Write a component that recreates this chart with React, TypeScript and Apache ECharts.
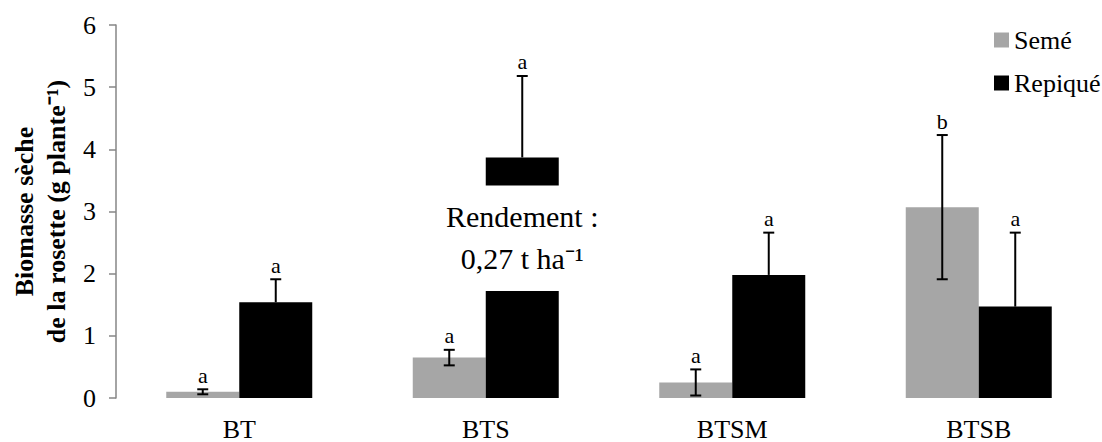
import React, { useEffect, useRef } from "react";
import * as echarts from "echarts";

const categories = ["BT", "BTS", "BTSM", "BTSB"];
const semeValues = [0.1, 0.65, 0.25, 3.07];
const semeErrors = [0.04, 0.125, 0.21, 1.16];
const repiqueValues = [1.54, 3.87, 1.98, 1.47];
const repiqueErrors = [0.37, 1.31, 0.68, 1.19];
const semeLetters = ["a", "a", "a", "b"];
const repiqueLetters = ["a", "a", "a", "a"];
const seriesNames = ["Semé", "Repiqué"];
const yTicks = [0, 1, 2, 3, 4, 5, 6];
const yTitle = "Biomasse sèche\nde la rosette (g plante⁻¹)";
// annotation box (white textbox placed over the BTS "Repiqué" bar)
const annotationCategoryIndex = 1;
const annotationRange = [1.72, 3.42];
const annotationText = "Rendement :\n0,27 t ha⁻¹";

const FONT = "Liberation Serif";
const BAR_W = 73;

export default function App() {
  const ref = useRef<HTMLDivElement>(null);
  useEffect(() => {
    if (!ref.current) return;
    const chart = echarts.init(ref.current, null, { renderer: "svg" });

    const errData: any[] = [];
    categories.forEach((_, i) => {
      errData.push([i, semeValues[i], semeErrors[i], 1, -1, semeLetters[i]]);
      errData.push([i, repiqueValues[i], repiqueErrors[i], 0, 1, repiqueLetters[i]]);
    });

    const option: any = {
      animation: false,
      grid: { left: 110, top: 25, width: 1005, height: 377 },
      legend: {
        orient: "vertical",
        left: 989,
        top: 22,
        itemWidth: 15,
        itemHeight: 15,
        itemGap: 17,
        icon: "rect",
        data: seriesNames,
        textStyle: { fontSize: 26, fontFamily: FONT, color: "#000" },
      },
      xAxis: {
        type: "category",
        data: categories,
        axisLine: { show: false },
        axisTick: { show: false },
        axisLabel: { fontSize: 26, fontFamily: FONT, color: "#000", margin: 18 },
      },
      yAxis: {
        type: "value",
        min: yTicks[0],
        max: yTicks[yTicks.length - 1],
        interval: 1,
        splitLine: { show: false },
        axisLine: { show: true, lineStyle: { color: "#868686", width: 1.5 } },
        axisTick: { show: true, length: 7, lineStyle: { color: "#868686", width: 1.5 } },
        axisLabel: { fontSize: 26, fontFamily: FONT, color: "#000", margin: 20 },
        name: yTitle,
        nameLocation: "middle",
        nameGap: 44,
        nameRotate: 90,
        nameTextStyle: {
          fontFamily: FONT,
          fontSize: 26,
          fontWeight: "bold",
          color: "#000",
          align: "center",
          lineHeight: 32,
        },
      },
      series: [
        {
          name: seriesNames[0],
          type: "bar",
          data: semeValues,
          barWidth: BAR_W,
          barGap: "0%",
          itemStyle: { color: "#a6a6a6" },
        },
        {
          name: seriesNames[1],
          type: "bar",
          data: repiqueValues,
          barWidth: BAR_W,
          barGap: "0%",
          itemStyle: { color: "#000000" },
        },
        {
          type: "custom",
          z: 5,
          data: [[annotationCategoryIndex, annotationRange[0], annotationRange[1]]],
          renderItem: (params: any, api: any) => {
            const idx = api.value(0);
            const lo = api.coord([idx, api.value(1)]);
            const hi = api.coord([idx, api.value(2)]);
            const cx = lo[0] + BAR_W / 2;
            const w = 180;
            return {
              type: "group",
              children: [
                {
                  type: "rect",
                  shape: { x: cx - w / 2, y: hi[1], width: w, height: lo[1] - hi[1] },
                  style: { fill: "#ffffff" },
                },
                {
                  type: "text",
                  x: cx,
                  y: (hi[1] + lo[1]) / 2 - 1,
                  style: {
                    text: annotationText,
                    fontFamily: FONT,
                    fontSize: 30,
                    lineHeight: 42,
                    fill: "#000",
                    align: "center",
                    verticalAlign: "middle",
                  },
                },
              ],
            };
          },
        },
        {
          type: "custom",
          z: 6,
          data: errData,
          renderItem: (params: any, api: any) => {
            const idx = api.value(0);
            const v = api.value(1);
            const e = api.value(2);
            const both = api.value(3);
            const side = api.value(4);
            const letter = errData[params.dataIndex][5];
            const top = api.coord([idx, v + e]);
            const bot = api.coord([idx, both ? v - e : v]);
            const x = top[0] + (side * BAR_W) / 2;
            const ls = { stroke: "#000", lineWidth: 2 };
            const children: any[] = [
              { type: "line", shape: { x1: x, y1: top[1], x2: x, y2: bot[1] }, style: ls },
              { type: "line", shape: { x1: x - 5.5, y1: top[1], x2: x + 5.5, y2: top[1] }, style: ls },
            ];
            if (both) {
              children.push({ type: "line", shape: { x1: x - 5.5, y1: bot[1], x2: x + 5.5, y2: bot[1] }, style: ls });
            }
            children.push({
              type: "text",
              x: x,
              y: top[1] - 3,
              style: {
                text: letter,
                fontSize: 22,
                fontFamily: FONT,
                fill: "#000",
                align: "center",
                verticalAlign: "bottom",
              },
            });
            return { type: "group", children };
          },
        },
      ],
    };
    chart.setOption(option);
    return () => chart.dispose();
  }, []);
  return <div ref={ref} style={{ position: "absolute", left: 0, top: 0, width: 1102, height: 442 }} />;
}
